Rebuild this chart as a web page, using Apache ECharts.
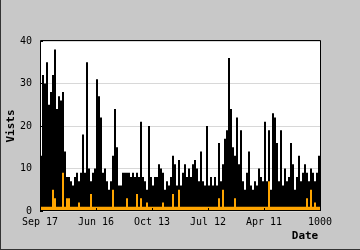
<!DOCTYPE html>
<html>
<head>
<meta charset="utf-8">
<script src="https://cdn.jsdelivr.net/npm/echarts@6/dist/echarts.min.js"></script>
<style>html,body{margin:0;padding:0;background:#c8c8c8;}#c{width:360px;height:250px;}</style>
</head>
<body>
<div id="c"></div>
<script>
// x axis tick labels (one every 28 buckets)
const xLabels = ['Sep 17','Jun 16','Oct 13','Jul 12','Apr 11','1000'];
const yTicks = [0,10,20,30,40];
// visits per bucket (max read per 2px column of the reference)
const visits = [
 13,32,30,35,25,28,32,38,24,27,
 26,28,14,8,8,7,6,8,9,7,
 9,18,9,35,10,7,9,10,31,27,
 22,9,10,7,5,7,13,24,15,6,
 6,9,9,9,9,8,9,8,9,8,
 21,8,7,5,20,8,6,8,8,11,
 10,9,5,7,6,8,13,11,6,12,
 6,9,11,8,10,8,11,12,10,7,
 14,7,6,20,6,8,6,8,6,16,
 7,11,17,19,36,24,15,13,22,11,
 19,7,5,9,14,6,5,7,6,10,
 8,7,21,7,19,5,23,22,16,7,
 19,6,10,7,8,16,11,5,8,13,
 7,9,11,9,7,10,9,7,9,13
];
// second (orange) series per bucket
const second = [
 1,1,1,1,1,1,5,3,1,1,
 1,9,1,3,3,1,1,1,1,2,
 1,1,1,1,1,4,1,1,1,1,
 1,1,1,1,1,1,5,1,1,1,
 1,1,1,3,1,1,1,1,4,1,
 3,1,1,2,1,1,1,1,1,1,
 1,2,1,1,1,1,4,1,1,5,
 1,1,1,1,1,1,1,1,1,1,
 1,1,1,1,1,1,1,1,1,3,
 1,5,1,1,1,1,1,3,1,1,
 1,1,1,1,1,1,1,1,1,1,
 1,1,1,1,7,1,1,1,1,1,
 1,1,1,1,1,1,1,1,1,1,
 1,1,1,3,1,5,1,2,1,1
];

const chart = echarts.init(document.getElementById('c'), null, {renderer:'canvas'});
const font = 'DejaVu Sans Mono';
const GL = 40, GT = 41, GR = 40, GB = 39;
const W = 360, H = 250;
const pw = W - GL - GR, ph = H - GT - GB;
const nb = visits.length;
const step = nb / (xLabels.length - 1);

chart.setOption({
  backgroundColor: '#c8c8c8',
  animation: false,
  grid: {left: GL, right: GR, top: GT, bottom: GB, show: true, backgroundColor: '#fff', borderWidth: 0},
  xAxis: {
    type: 'value', min: 0, max: nb, interval: step, z: 5,
    axisLine: {show: false},
    axisTick: {show: true, inside: true, length: 3, lineStyle: {color: '#000'}},
    splitLine: {show: false},
    axisLabel: {color: '#000', fontFamily: font, fontSize: 10, margin: 6,
      formatter: v => xLabels[Math.round(v / step)]}
  },
  yAxis: {
    type: 'value', min: yTicks[0], max: yTicks[yTicks.length-1], interval: 10,
    axisLine: {show: false},
    axisTick: {show: true, inside: true, length: 3, lineStyle: {color: '#000'}},
    splitLine: {show: true, lineStyle: {color: '#d8d8d8', width: 1}},
    axisLabel: {color: '#000', fontFamily: font, fontSize: 10, margin: 8}
  },
  series: [
    {type: 'bar', barWidth: 2, barGap: '-100%', itemStyle: {color: '#000'},
     data: visits.map((v, i) => [i + 0.5, v])},
    {type: 'bar', barWidth: 2, barGap: '-100%', itemStyle: {color: '#ffa500'},
     data: second.map((v, i) => [i + 0.5, v])}
  ],
  graphic: [
    {type: 'rect', z: 100, shape: {x: GL + 0.5, y: GT - 0.5, width: pw, height: ph},
     style: {fill: 'none', stroke: '#000', lineWidth: 1}},
    {type: 'line', z: 100, shape: {x1: 0.5, y1: 0, x2: 0.5, y2: H}, style: {stroke: '#333', lineWidth: 1}},
    {type: 'line', z: 100, shape: {x1: 0, y1: H - 0.5, x2: W, y2: H - 0.5}, style: {stroke: '#333', lineWidth: 1}},
    {type: 'text', z: 100, x: 11, y: GT + ph / 2, rotation: Math.PI / 2,
     style: {text: 'Vists', fill: '#000', font: 'bold 11px "DejaVu Sans Mono"', align: 'center', verticalAlign: 'middle'}},
    {type: 'text', z: 100, x: 305, y: 236,
     style: {text: 'Date', fill: '#000', font: 'bold 11px "DejaVu Sans Mono"', align: 'center', verticalAlign: 'middle'}}
  ]
});
</script>
</body>
</html>
